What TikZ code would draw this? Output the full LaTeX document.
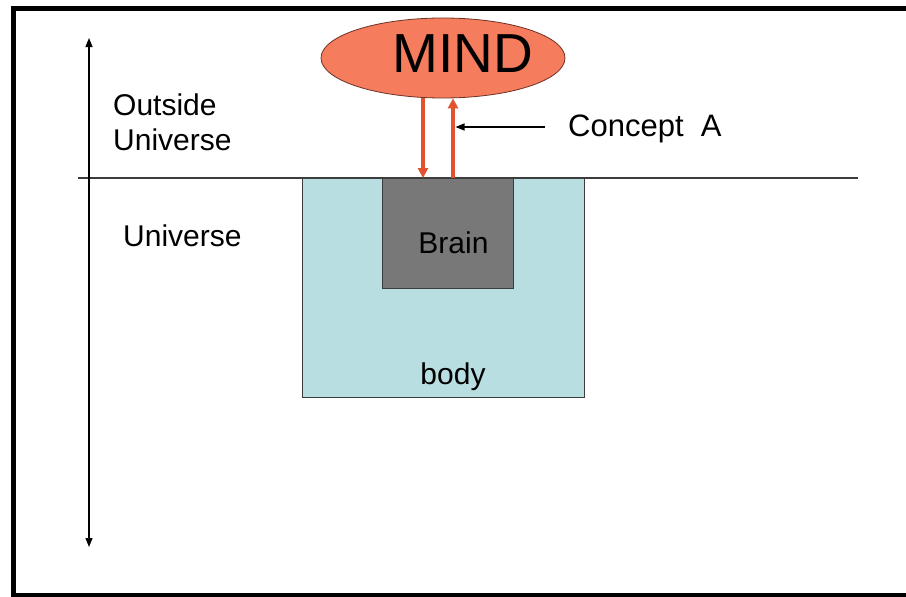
\documentclass[tikz,border=0pt]{standalone}
\usepackage{fontspec}
\setmainfont{Liberation Sans}
\usetikzlibrary{shapes.geometric,arrows.meta}
\definecolor{mindfill}{RGB}{246,124,94}
\definecolor{mindline}{RGB}{110,50,35}
\definecolor{redarrow}{RGB}{226,82,46}
\definecolor{bodyfill}{RGB}{184,222,225}
\definecolor{brainfill}{RGB}{120,120,120}
\definecolor{edgegray}{RGB}{60,60,60}
\begin{document}
\begin{tikzpicture}[x=1pt,y=-1pt,
  lbl/.style={font=\fontsize{30}{35}\selectfont, inner sep=0pt, anchor=base west},
  ctr/.style={font=\fontsize{30}{35}\selectfont, inner sep=0pt, anchor=base},
  redarr/.style={draw=redarrow, line width=3.5pt, -{Triangle[width=10pt,length=10pt]}},
  blkarr/.style={draw=black, line width=1.2pt, -{Triangle[width=7pt,length=9pt]}},
  dblarr/.style={draw=black, line width=1.2pt, {Triangle[width=7pt,length=9pt]}-{Triangle[width=7pt,length=9pt]}}]
\useasboundingbox (0,0) rectangle (906,597);
\clip (0,0) rectangle (906,597);
\fill[white] (0,0) rectangle (906,597);
% frame
\draw[line width=5pt] (920,8.5) -- (13,8.5) -- (13,595) -- (920,595);
% universe boundary line
\coordinate (hl) at (78,178);
\coordinate (hr) at (858,178);
% body and brain
\node[draw=edgegray, line width=1pt, fill=bodyfill, minimum width=282pt, minimum height=219pt, anchor=north west, inner sep=0pt] (body) at (302,178) {};
\node[draw=edgegray, line width=1pt, fill=brainfill, minimum width=131pt, minimum height=110pt, anchor=north west, inner sep=0pt] (brain) at (382,178) {};
\draw[edgegray, line width=1.2pt] (hl) -- (hr);
\node[ctr] (braintext) at (453.5,253) {Brain};
\node[ctr] (bodytext) at (453,384) {body};
% mind
\node[ellipse, draw=mindline, line width=0.8pt, fill=mindfill, minimum width=244pt, minimum height=80pt, inner sep=0pt] (mind) at (443,58) {};
\node[font=\fontsize{55}{60}\selectfont, inner sep=0pt, anchor=base] (mindtext) at (463,72) {MIND};
% red arrows
\coordinate (dnx) at (423,0);
\coordinate (upx) at (453,0);
\draw[redarr] (mind.south -| dnx) -- (brain.north -| dnx);
\draw[redarr] (brain.north -| upx) -- (mind.south -| upx);
% concept A
\node[lbl, font=\fontsize{31}{36}\selectfont] (concept) at (568,136) {Concept\ \ A};
\coordinate (cstart) at (545,127);
\coordinate (cend) at (455.5,127);
\draw[blkarr] (cstart) -- (cend);
% left labels
\node[lbl] (outside) at (113,115) {Outside};
\node[lbl] (outuniv) at (113,150) {Universe};
\node[lbl] (universe) at (123,246) {Universe};
% vertical double arrow
\coordinate (vtop) at (89,38);
\coordinate (vbot) at (89,547);
\draw[dblarr] (vtop) -- (vbot);
\end{tikzpicture}
\end{document}
